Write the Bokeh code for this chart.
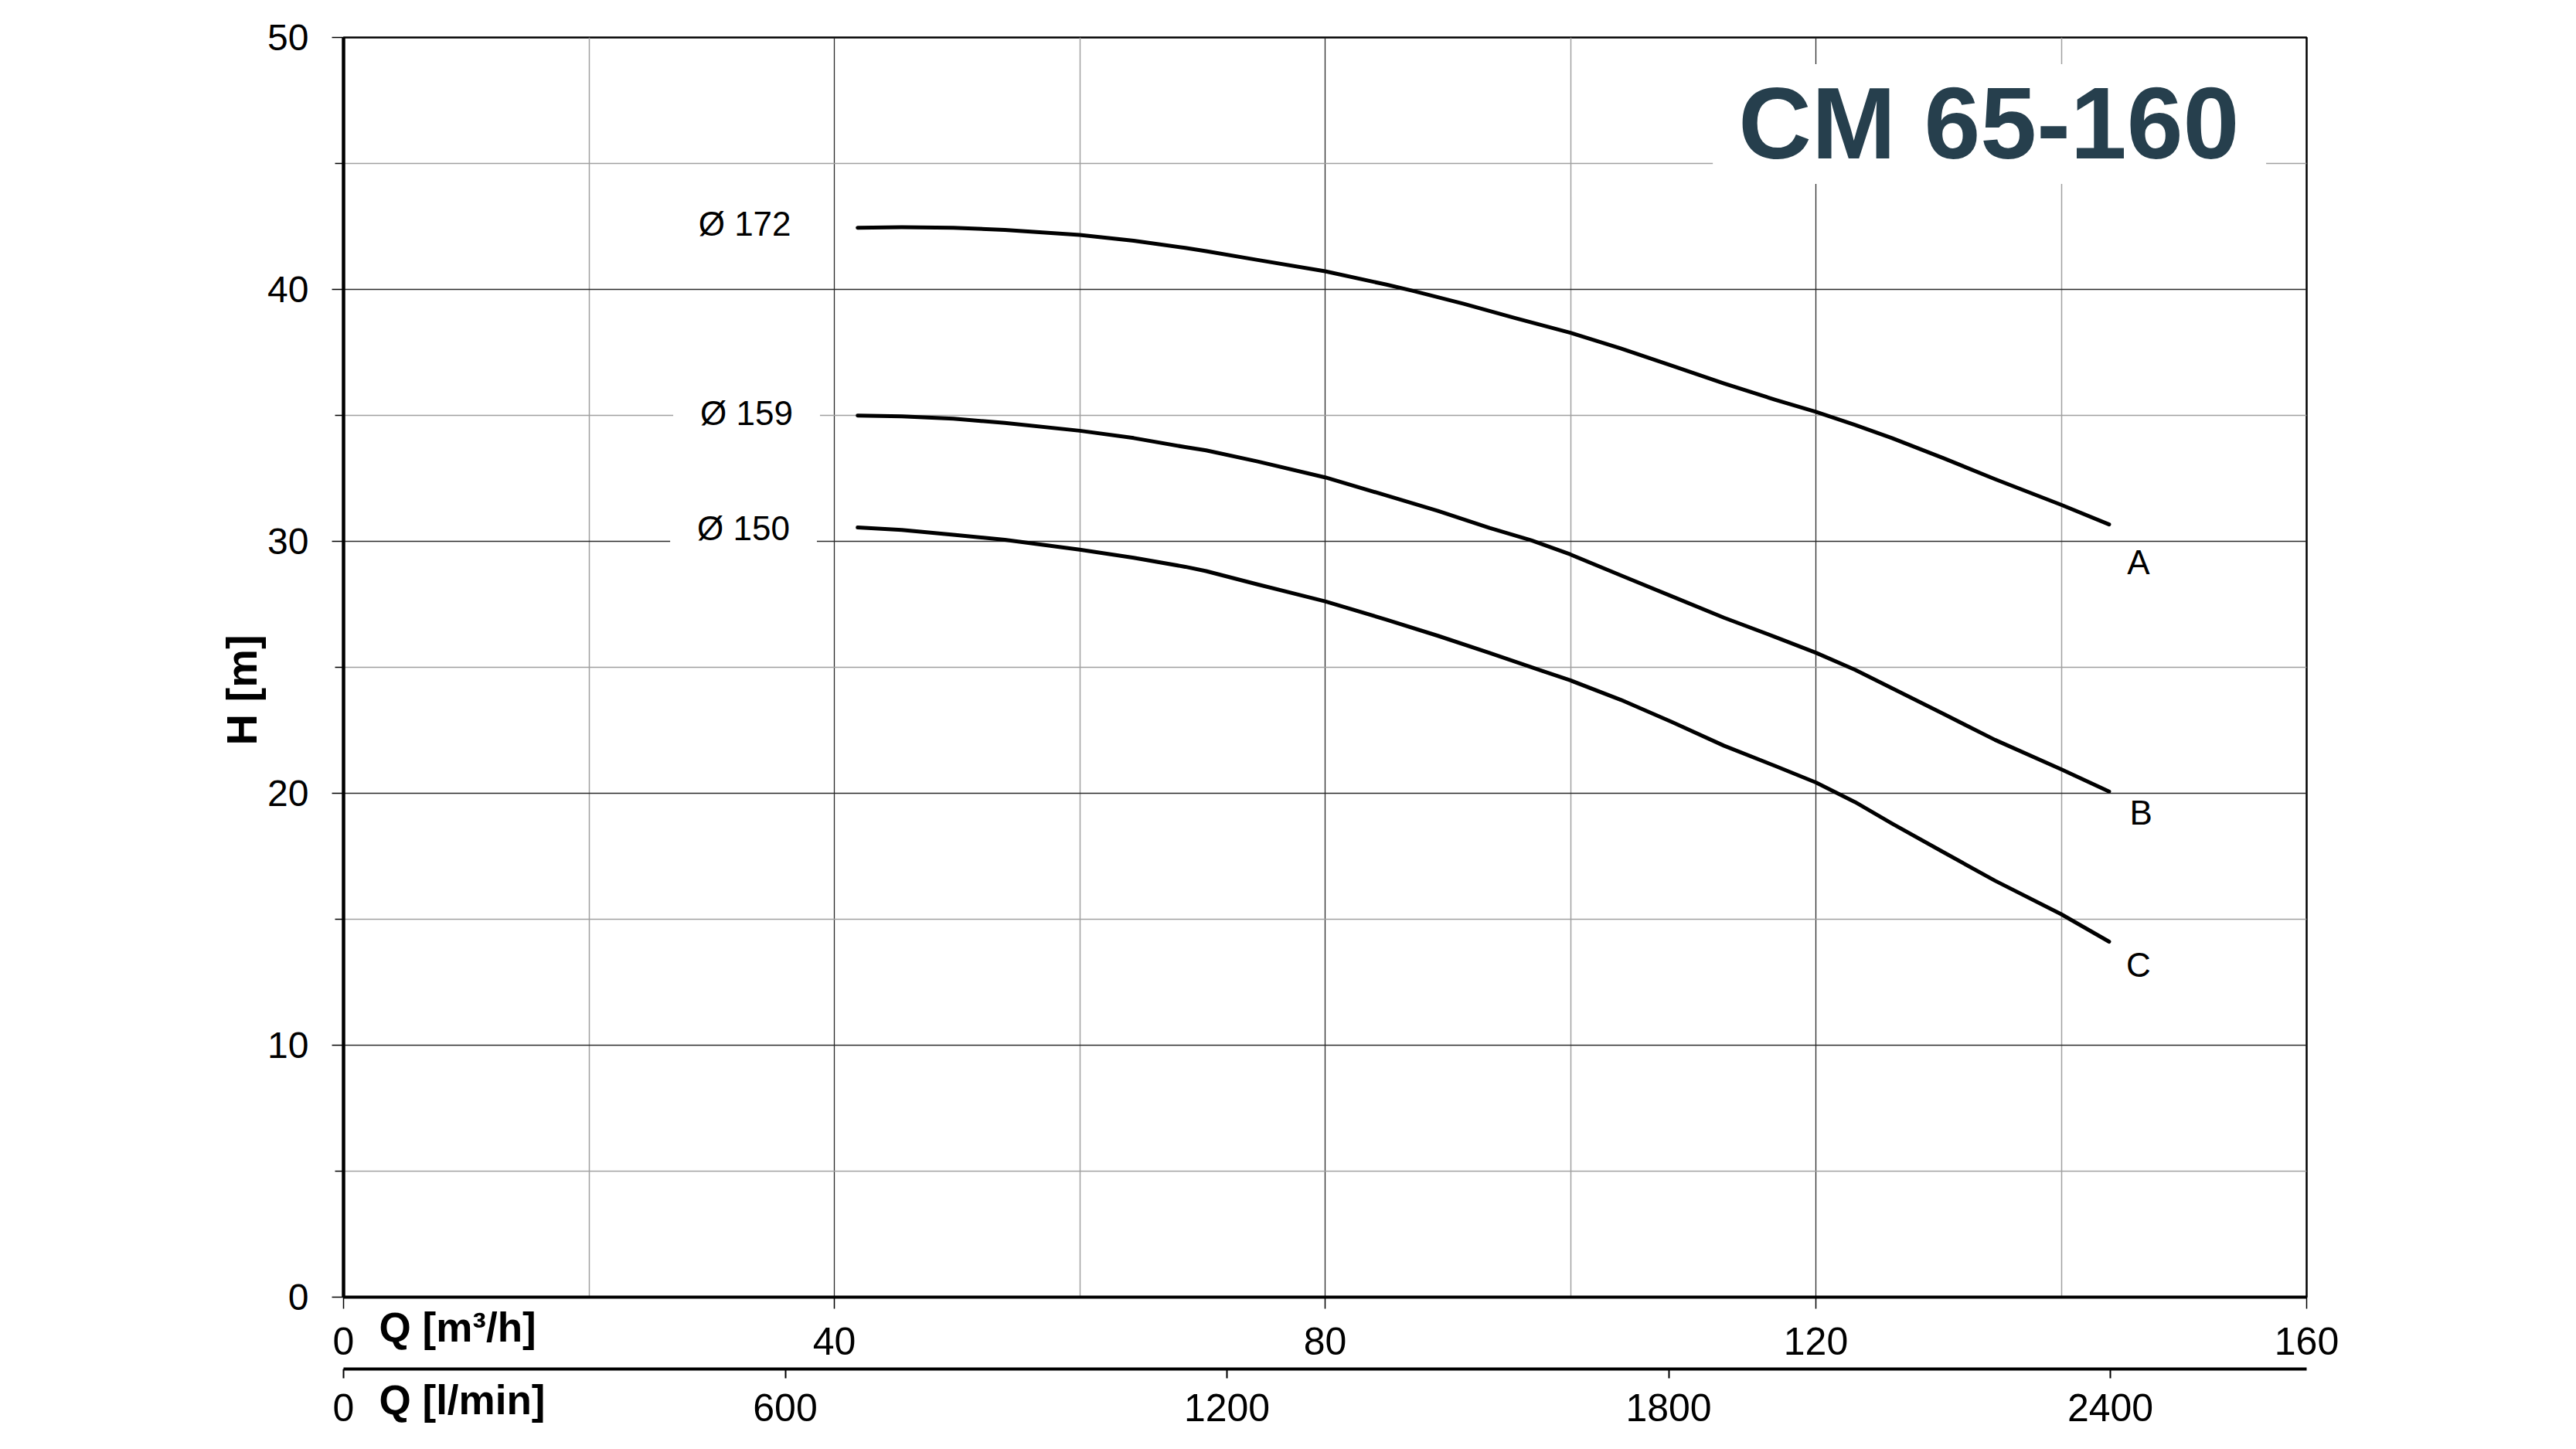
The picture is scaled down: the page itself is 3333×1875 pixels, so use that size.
import math
from bokeh.plotting import figure
from bokeh.models import Range1d, LinearAxis, FixedTicker, Label, BoxAnnotation
from bokeh.embed import file_html
from bokeh.resources import INLINE

# ---------------- data ----------------
flow_a = [41.9, 45.5, 49.7, 53.9, 60.0, 64.4, 68.6, 70.3, 74.5, 80.0, 85.0, 87.1, 91.3, 95.5,
          100.0, 104.1, 108.3, 112.5, 116.7, 120.0, 123.2, 126.2, 130.4, 134.6, 140.0, 143.9]
head_a = [42.45, 42.47, 42.45, 42.36, 42.16, 41.93, 41.65, 41.52, 41.17, 40.72, 40.19, 39.95, 39.43, 38.86,
          38.28, 37.66, 36.97, 36.27, 35.62, 35.14, 34.62, 34.10, 33.30, 32.47, 31.45, 30.67]

flow_b = [41.9, 45.5, 49.7, 53.9, 60.0, 64.4, 68.6, 70.3, 74.5, 80.0, 85.0, 89.2, 93.4, 96.8,
          100.0, 104.1, 108.3, 112.5, 116.7, 120.0, 123.2, 126.2, 130.4, 134.6, 140.0, 143.9]
head_b = [34.99, 34.96, 34.87, 34.70, 34.39, 34.10, 33.74, 33.61, 33.17, 32.54, 31.82, 31.21, 30.53, 30.04,
          29.48, 28.65, 27.81, 26.97, 26.20, 25.58, 24.90, 24.17, 23.15, 22.12, 20.95, 20.07]

flow_c = [41.9, 45.5, 49.7, 53.9, 60.0, 64.4, 68.6, 70.3, 74.5, 80.0, 85.0, 89.2, 93.4, 97.6,
          100.0, 104.1, 108.3, 112.5, 116.7, 120.0, 123.2, 126.2, 130.4, 134.6, 140.0, 143.9]
head_c = [30.55, 30.45, 30.26, 30.06, 29.67, 29.35, 28.99, 28.82, 28.29, 27.62, 26.89, 26.25, 25.57, 24.87,
          24.48, 23.71, 22.82, 21.89, 21.08, 20.43, 19.65, 18.80, 17.66, 16.53, 15.20, 14.11]

curve_names = ["A", "B", "C"]
impeller_labels = ["Ø 172", "Ø 159", "Ø 150"]
x_major_ticks = [0, 40, 80, 120, 160]
x_minor_ticks = [20, 60, 100, 140]
y_major_ticks = [0, 10, 20, 30, 40, 50]
y_minor_ticks = [5, 15, 25, 35, 45]
lmin_ticks = [0, 600, 1200, 1800, 2400]
chart_title = "CM 65-160"
x_label = "Q [m³/h]"
x2_label = "Q [l/min]"
y_label = "H [m]"

FONT = "Liberation Sans"
MAJOR_GRID = "#2a2a2a"
MINOR_GRID = "#a0a0a0"

p = figure(width=3317, height=1859,
           x_range=Range1d(0, 160), y_range=Range1d(0, 50),
           output_backend="svg", toolbar_location=None,
           min_border_left=444, min_border_right=333,
           min_border_top=48, min_border_bottom=181)
p.title.text = ""
p.background_fill_color = "white"
p.border_fill_color = "white"
p.outline_line_color = "black"
p.outline_line_width = 2.5

# l/min secondary axis range (1 m3/h = 1000/60 l/min)
p.extra_x_ranges = {"lmin": Range1d(0, 160 * 1000 / 60)}

xt = FixedTicker(ticks=x_major_ticks, minor_ticks=x_minor_ticks)
yt = FixedTicker(ticks=y_major_ticks, minor_ticks=y_minor_ticks)

xa = p.xaxis[0]
xa.ticker = xt
xa.axis_line_width = 4
xa.major_tick_out = 15
xa.major_tick_in = 0
xa.major_tick_line_width = 1.5
xa.minor_tick_line_color = None
xa.major_label_standoff = 24
xa.major_label_text_font = FONT
xa.major_label_text_font_size = "50px"
xa.major_label_text_color = "black"
# invisible spacer label to push the l/min axis further down
xa.axis_label = " "
xa.axis_label_text_font_size = "10px"
xa.axis_label_standoff = 2

ya = p.yaxis[0]
ya.ticker = yt
ya.axis_line_width = 4.5
ya.major_tick_out = 15
ya.major_tick_in = 0
ya.minor_tick_out = 11
ya.minor_tick_in = 0
ya.major_tick_line_width = 1.5
ya.minor_tick_line_width = 1.5
ya.major_label_standoff = 30
ya.major_label_text_font = FONT
ya.major_label_text_font_size = "48px"
ya.major_label_text_color = "black"

x2 = LinearAxis(x_range_name="lmin", ticker=FixedTicker(ticks=lmin_ticks))
x2.axis_line_width = 4
x2.major_tick_out = 12
x2.major_tick_in = 0
x2.major_tick_line_width = 2
x2.minor_tick_line_color = None
x2.major_label_standoff = 20
x2.major_label_text_font = FONT
x2.major_label_text_font_size = "50px"
x2.major_label_text_color = "black"
p.add_layout(x2, "below")

p.xgrid.ticker = xt
p.ygrid.ticker = yt
for g in (p.xgrid[0], p.ygrid[0]):
    g.grid_line_color = MAJOR_GRID
    g.grid_line_width = 1.3
    g.minor_grid_line_color = MINOR_GRID
    g.minor_grid_line_width = 1.5

# curves
for fl, hd in ((flow_a, head_a), (flow_b, head_b), (flow_c, head_c)):
    p.line(fl, hd, line_color="black", line_width=5, line_cap="round", line_join="round")

# impeller diameter labels (white box breaks the grid lines)
imp_pos = [(32.7, 42.62), (32.85, 35.08), (32.6, 30.52)]
for txt, (lx, ly) in zip(impeller_labels, imp_pos):
    p.add_layout(Label(x=lx, y=ly, text=txt, text_font=FONT, text_font_size="44px",
                       text_align="center", text_baseline="middle", text_color="black",
                       background_fill_color="white", padding=35))

# curve end letters
end_pos = [(146.3, 29.16), (146.5, 19.22), (146.3, 13.2)]
for txt, (lx, ly) in zip(curve_names, end_pos):
    p.add_layout(Label(x=lx, y=ly, text=txt, text_font=FONT, text_font_size="44px",
                       text_align="center", text_baseline="middle", text_color="black"))

# title with white box over the grid
p.add_layout(BoxAnnotation(left=111.6, right=156.7, bottom=44.19, top=48.94,
                           fill_color="white", fill_alpha=1, line_alpha=0))
p.add_layout(Label(x=134.1, y=46.58, text=chart_title, text_font=FONT,
                   text_font_size="131px", text_font_style="bold", text_color="#263f4d",
                   text_align="center", text_baseline="middle"))

# axis titles outside the frame: placed in side panels (with spare room) so they are not clipped
p.add_layout(Label(x=2.9, y=-1.2, text=x_label,
                   text_font=FONT, text_font_size="53px", text_font_style="bold",
                   text_baseline="middle", text_color="black"), "right")
p.add_layout(Label(x=2.9, y=-4.09, text=x2_label,
                   text_font=FONT, text_font_size="53px", text_font_style="bold",
                   text_baseline="middle", text_color="black"), "left")
p.add_layout(Label(x=-8.31, y=24.1, text=y_label, angle=math.pi / 2,
                   text_font=FONT, text_font_size="56px", text_font_style="bold",
                   text_align="center", text_baseline="middle", text_color="black"), "left")

open("out.html", "w").write(file_html(p, INLINE))
